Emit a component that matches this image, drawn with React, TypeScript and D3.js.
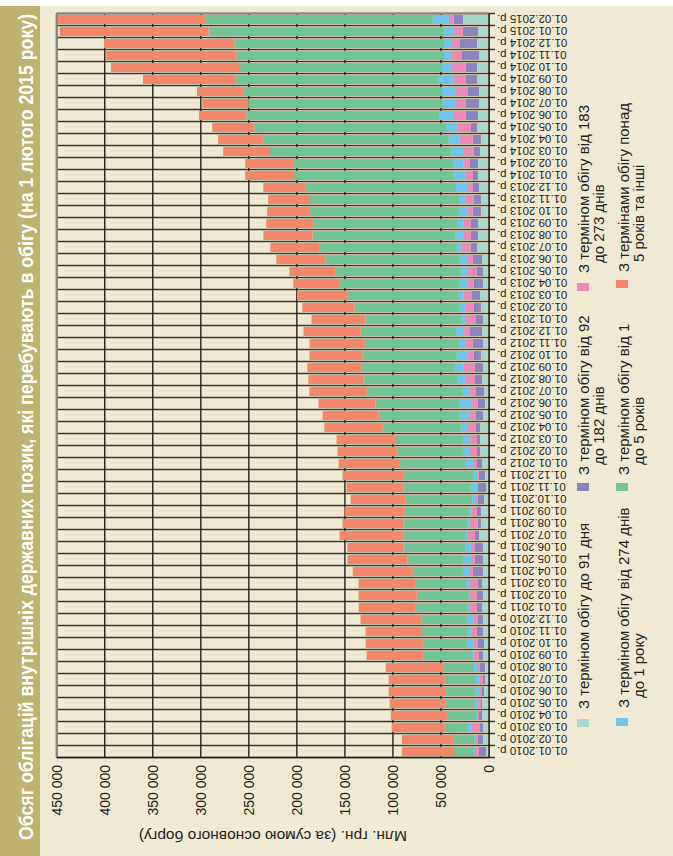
import React, { useLayoutEffect, useRef, useState } from 'react';
import * as d3 from 'd3';

const W = 673;
const H = 856;

// newest first, as they run from the top of the picture
const categories = [
  '01.02.2015 р.', '01.01.2015 р.',
  '01.12.2014 р.', '01.11.2014 р.', '01.10.2014 р.', '01.09.2014 р.', '01.08.2014 р.', '01.07.2014 р.',
  '01.06.2014 р.', '01.05.2014 р.', '01.04.2014 р.', '01.03.2014 р.', '01.02.2014 р.', '01.01.2014 р.',
  '01.12.2013 р.', '01.11.2013 р.', '01.10.2013 р.', '01.09.2013 р.', '01.08.2013 р.', '01.07.2013 р.',
  '01.06.2013 р.', '01.05.2013 р.', '01.04.2013 р.', '01.03.2013 р.', '01.02.2013 р.', '01.01.2013 р.',
  '01.12.2012 р.', '01.11.2012 р.', '01.10.2012 р.', '01.09.2012 р.', '01.08.2012 р.', '01.07.2012 р.',
  '01.06.2012 р.', '01.05.2012 р.', '01.04.2012 р.', '01.03.2012 р.', '01.02.2012 р.', '01.01.2012 р.',
  '01.12.2011 р.', '01.11.2011 р.', '01.10.2011 р.', '01.09.2011 р.', '01.08.2011 р.', '01.07.2011 р.',
  '01.06.2011 р.', '01.05.2011 р.', '01.04.2011 р.', '01.03.2011 р.', '01.02.2011 р.', '01.01.2011 р.',
  '01.12.2010 р.', '01.11.2010 р.', '01.10.2010 р.', '01.09.2010 р.', '01.08.2010 р.', '01.07.2010 р.',
  '01.06.2010 р.', '01.05.2010 р.', '01.04.2010 р.', '01.03.2010 р.', '01.02.2010 р.', '01.01.2010 р.',
];

// thousand million UAH, newest first
const upTo91 = [
  27.1, 11.5, 12.5, 10.4, 12.5, 12.5, 10.4, 10.4, 11.5, 12.5,
  8.4, 9.4, 11.5, 11.5, 10.4, 8.4, 8.4, 11.5, 11.5, 12.5,
  7.3, 6.3, 6.3, 9.4, 8.4, 6.3, 7.3, 6.3, 8.4, 6.3,
  7.3, 5.2, 4.2, 6.3, 9.4, 9.4, 9.4, 7.3, 4.2, 3.1,
  5.2, 8.4, 8.4, 10.4, 6.3, 6.3, 6.3, 7.3, 6.3, 7.3,
  6.3, 6.3, 5.2, 6.3, 4.2, 4.2, 5.2, 7.3, 7.3, 6.3,
  6.3, 3.1,
];
const d92to182 = [
  9.7, 15.7, 17.7, 17.7, 11.5, 11.5, 11.5, 13.6, 12.5, 6.3,
  8.4, 6.3, 8.4, 5.2, 6.3, 7.3, 8.4, 7.3, 7.3, 6.3,
  9.4, 6.3, 9.4, 8.4, 7.3, 7.3, 12.5, 10.4, 7.3, 8.4,
  7.3, 8.4, 7.3, 7.3, 4.2, 3.1, 3.1, 5.2, 6.3, 8.4,
  6.3, 4.2, 3.1, 4.2, 8.4, 8.4, 10.4, 4.2, 6.3, 5.2,
  5.2, 6.3, 6.3, 4.2, 5.2, 2.1, 2.1, 1.0, 3.1, 3.1,
  5.2, 7.3,
];
const d183to273 = [
  4.9, 9.4, 9.4, 11.5, 14.6, 13.6, 13.6, 11.5, 13.6, 13.6,
  13.6, 11.5, 6.3, 8.4, 5.2, 8.4, 5.2, 7.3, 7.3, 9.4,
  6.3, 9.4, 6.3, 8.4, 8.4, 10.4, 7.3, 7.3, 6.3, 11.5,
  9.4, 6.3, 7.3, 7.3, 9.4, 7.3, 7.3, 3.1, 1.0, 1.0,
  3.1, 6.3, 8.4, 7.3, 4.2, 3.1, 3.1, 9.4, 7.3, 7.3,
  4.2, 5.2, 4.2, 5.2, 3.1, 4.2, 3.1, 4.2, 2.1, 8.4,
  3.1, 4.2,
];
const d274to1y = [
  16.7, 10.4, 7.3, 7.3, 10.4, 14.6, 13.6, 12.5, 13.6, 12.5,
  11.5, 12.5, 10.4, 11.5, 12.5, 6.3, 8.4, 6.3, 9.4, 5.2,
  7.3, 7.3, 9.4, 5.2, 6.3, 5.2, 7.3, 7.3, 11.5, 8.4,
  8.4, 7.3, 11.5, 10.4, 6.3, 7.3, 6.3, 9.4, 5.2, 6.3,
  3.1, 1.0, 2.1, 3.1, 5.2, 8.4, 6.3, 3.1, 1.0, 2.1,
  7.3, 5.2, 7.3, 2.1, 3.1, 3.1, 4.2, 2.1, 1.0, 4.2,
  1.0, 1.0,
];
const d1to5y = [
  237.3, 245.0, 218.2, 216.1, 211.2, 210.9, 207.1, 202.5, 201.5, 199.4,
  193.5, 189.3, 167.4, 167.4, 157.0, 157.0, 157.0, 150.7, 148.2, 143.4,
  140.2, 130.8, 124.6, 116.2, 109.6, 99.5, 99.2, 98.1, 98.1, 98.5,
  98.5, 100.2, 88.0, 83.5, 81.4, 71.0, 70.0, 68.9, 72.0, 70.0,
  68.9, 67.9, 66.8, 63.7, 64.7, 58.5, 53.2, 52.2, 54.3, 54.3,
  47.0, 47.0, 45.9, 51.2, 32.4, 32.4, 30.3, 30.3, 30.3, 24.0,
  21.9, 21.9,
];
const over5y = [
  153.1, 154.9, 135.7, 135.7, 133.3, 97.1, 47.7, 48.0, 49.1, 43.8,
  46.6, 47.7, 49.8, 49.8, 43.5, 42.5, 43.5, 48.7, 51.2, 50.8,
  50.8, 47.7, 47.7, 52.2, 54.3, 56.0, 59.5, 57.4, 55.3, 56.0,
  57.1, 59.5, 59.2, 58.5, 60.6, 60.6, 61.6, 62.6, 63.7, 59.5,
  57.4, 62.6, 63.7, 66.8, 58.5, 62.6, 62.6, 59.5, 60.6, 59.5,
  63.7, 58.5, 59.5, 58.5, 59.5, 58.5, 59.5, 58.5, 58.5, 55.3,
  53.2, 53.2,
];

const valueTicks = [0, 50000, 100000, 150000, 200000, 250000, 300000, 350000, 400000, 450000];

const seriesKeys = ['upTo91', 'd92to182', 'd183to273', 'd274to1y', 'd1to5y', 'over5y'];
const seriesColors = ['#a6d9ca', '#8a84c0', '#ef8ab6', '#6ec6ee', '#71c597', '#f4866a'];
const legendLines = [
  ['З терміном обігу до 91 дня'],
  ['З терміном обігу від 92', 'до 182 днів'],
  ['З терміном обігу від 183', 'до 273 днів'],
  ['З терміном обігу від 274 днів', 'до 1 року'],
  ['З терміном обігу від 1', 'до 5 років'],
  ['З термінами обігу понад', '5 років та інші'],
];

const titleText = 'Обсяг облігацій внутрішніх державних позик, які перебувають в обігу (на 1 лютого 2015 року)';
const axisTitle = 'Млн. грн. (за сумою основного боргу)';

const FONT = "'Liberation Sans', Arial, sans-serif";
const TITLE_LEN = 826;

export default function App() {
  const titleRef = useRef<SVGTextElement>(null);
  const [titleScale, setTitleScale] = useState(0.86);
  useLayoutEffect(() => {
    if (titleRef.current) {
      const len = titleRef.current.getComputedTextLength();
      if (len > 0) setTitleScale(TITLE_LEN / len);
    }
  }, []);

  // inner (unrotated) frame: width H, height W; shown rotated -90deg
  const x = d3.scaleBand<string>().domain(categories).range([842.5, 98.5]).paddingInner(0.25).paddingOuter(0.125);
  const y = d3.scaleLinear().domain([0, 450000]).range([489, 56.7]);
  const step = x.step();
  const off = (step - x.bandwidth()) / 2;

  const table = categories.map((c, i) => ({
    cat: c,
    upTo91: upTo91[i] * 1000,
    d92to182: d92to182[i] * 1000,
    d183to273: d183to273[i] * 1000,
    d274to1y: d274to1y[i] * 1000,
    d1to5y: d1to5y[i] * 1000,
    over5y: over5y[i] * 1000,
  }));
  const stacked = d3.stack<any>().keys(seriesKeys)(table);

  const boundaries = categories.map((c) => (x(c) as number) - off);
  boundaries.push(Math.max(...boundaries) + step);

  const fmt = (v: number) => d3.format(',')(v).replace(/,/g, ' ');

  const legendPos = [
    { sx: 129, sy: 577, tx: 147, ty: 589 },
    { sx: 365, sy: 577, tx: 381, ty: 589 },
    { sx: 565, sy: 577, tx: 583, ty: 589 },
    { sx: 130, sy: 616, tx: 148, ty: 629 },
    { sx: 365, sy: 616, tx: 381, ty: 629 },
    { sx: 568, sy: 616, tx: 584, ty: 629 },
  ];

  const [x0, x1] = [98.5, 842.5];
  const [y0, y1] = [y(450000), y(0)];

  return (
    <svg width={W} height={H} style={{ position: 'absolute', left: 0, top: 0, background: '#ffffff' }}>
      <g transform={`translate(0,${H}) rotate(-90)`}>
        <rect x={0} y={0} width={850} height={W} fill="#f0e9d3" />
        <rect x={0} y={0} width={850} height={40} fill="#bdb26f" />
        <g transform={`translate(16,33) scale(${titleScale},1)`}>
          <text ref={titleRef} x={0} y={0} fill="#ffffff" fontFamily={FONT} fontWeight="bold" fontSize={20}>
            {titleText}
          </text>
        </g>

        {/* category grid lines */}
        {boundaries.map((b, i) => (
          <line key={'cb' + i} x1={b} x2={b} y1={y0} y2={y1 + 6} stroke="#3d3832" strokeWidth={1.3} />
        ))}
        {/* value grid lines */}
        {valueTicks.map((t) => (
          <line key={'vg' + t} x1={x0} x2={x1} y1={y(t)} y2={y(t)} stroke="#26221f" strokeWidth={1.4} />
        ))}

        {/* bars */}
        {stacked.map((s, si) => (
          <g key={s.key} fill={seriesColors[si]}>
            {s.map((d: any) => (
              <rect key={d.data.cat} x={x(d.data.cat)} width={x.bandwidth()}
                y={y(d[1])} height={Math.max(0, y(d[0]) - y(d[1]))} />
            ))}
          </g>
        ))}

        {/* frame */}
        <line x1={x1} x2={x1} y1={y0} y2={y1} stroke="#8d867c" strokeWidth={2.2} />
        <line x1={x0} x2={x1} y1={y0} y2={y0} stroke="#8d867c" strokeWidth={2.2} />
        <line x1={x0} x2={x1} y1={y1} y2={y1} stroke="#26221f" strokeWidth={1.4} />
        <line x1={x0} x2={x0} y1={y0} y2={y1} stroke="#26221f" strokeWidth={1.4} />

        {/* value tick labels */}
        {valueTicks.map((t) => (
          <text key={'vt' + t} x={91} y={y(t)} dy="0.35em" textAnchor="end" fontFamily={FONT} fontSize={14}
            fill="#231f20">{fmt(t)}</text>
        ))}
        <text transform={`translate(25,${(y0 + y1) / 2}) rotate(-90)`} textAnchor="middle" fontFamily={FONT}
          fontSize={15.5} fill="#231f20">{axisTitle}</text>

        {/* category labels */}
        {categories.map((c) => (
          <text key={'cl' + c} transform={`translate(${(x(c) as number) + x.bandwidth() / 2},497) rotate(-90)`}
            dy="0.35em" textAnchor="end" fontFamily={FONT} fontSize={11.5} fill="#231f20">{c}</text>
        ))}

        {/* legend */}
        {legendLines.map((lines, k) => {
          const p = legendPos[k];
          return (
            <g key={'lg' + k}>
              <rect x={p.sx} y={p.sy} width={8} height={12} fill={seriesColors[k]} />
              {lines.map((ln, li) => (
                <text key={li} x={p.tx + (li > 0 ? 10 : 0)} y={p.ty + li * 14.5} fontFamily={FONT} fontSize={15}
                  fill="#231f20">{ln}</text>
              ))}
            </g>
          );
        })}
      </g>
    </svg>
  );
}
